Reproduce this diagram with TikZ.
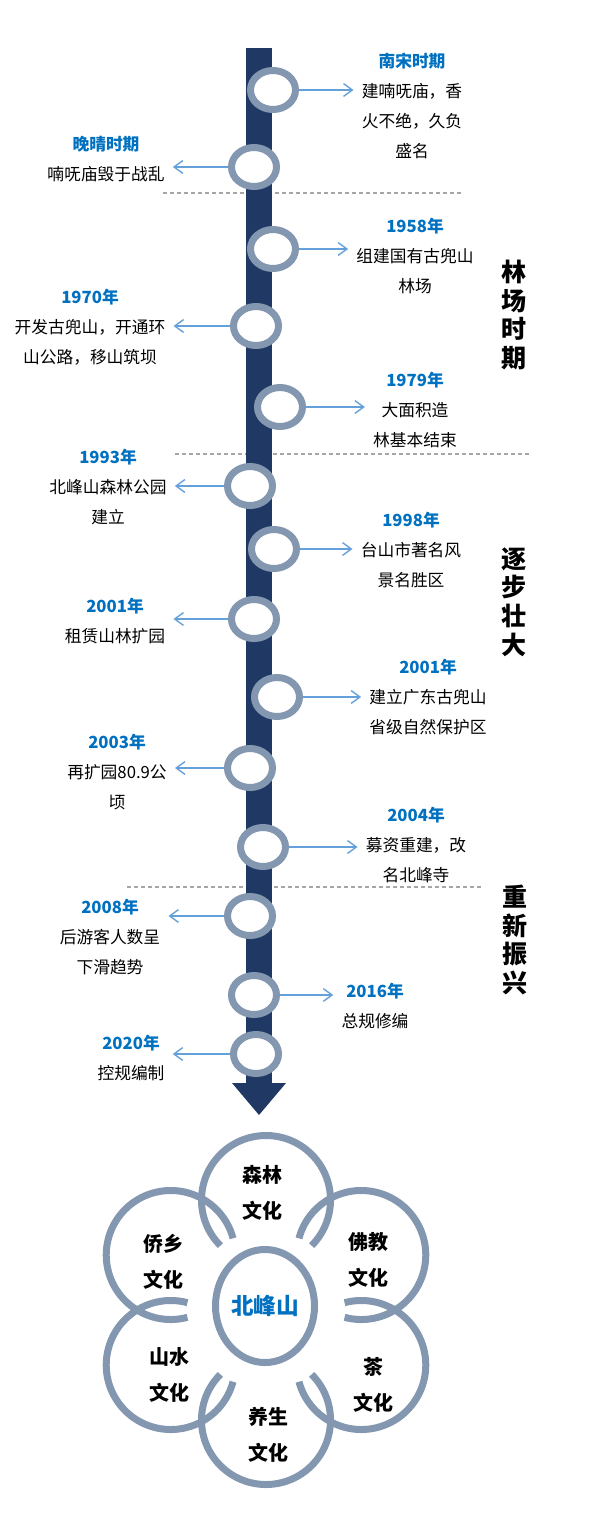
\documentclass[tikz,border=0pt]{standalone}
\usepackage{fontspec}
\setmainfont{Noto Sans CJK SC}
\usetikzlibrary{arrows.meta,shapes.geometric}
\definecolor{barNavy}{RGB}{32,56,100}
\definecolor{ringGray}{RGB}{132,151,176}
\definecolor{linkBlue}{RGB}{100,160,218}
\definecolor{yearBlue}{RGB}{0,112,192}
\definecolor{dashGray}{RGB}{166,166,166}
\newcommand{\yr}[1]{{\color{yearBlue}\bfseries #1}}

\begin{document}
\begin{tikzpicture}[x=0.025cm,y=-0.025cm,
      ring/.style={ellipse,draw=ringGray,fill=white,line width=0.175cm,minimum width=1.125cm,minimum height=0.975cm,inner sep=0pt},
      event/.style={align=center,inner xsep=0.2cm,inner ysep=0pt,font=\fontsize{11.9}{21.3}\selectfont},
      link/.style={draw=linkBlue,line width=0.035cm,-{Straight Barb[length=0.22cm,width=0.32cm]}},
      period/.style={align=center,font=\fontsize{17.8}{20.4}\selectfont\bfseries},
      sep/.style={draw=dashGray,line width=0.033cm,dash pattern=on 0.1cm off 0.075cm},
      petal/.style={draw=ringGray,line width=0.175cm},
      culture/.style={align=center,font=\fontsize{14.2}{25.6}\selectfont\bfseries}]
    \useasboundingbox (0,0) rectangle (600,1517);

    % dashed period borders
    \draw[sep] (163,193) -- (461,193);
    \draw[sep] (175,454) -- (529,454);
    \draw[sep] (127,887) -- (483,887);

    % timeline bar
    \coordinate (top) at (259,48);
    \coordinate (base) at (259,1083);
    \draw[barNavy,line width=0.65cm] (top) -- (base);
    \fill[barNavy] (base) ++(-27,0) -- ++(54,0) -- (259,1115) -- cycle;

    % rings
    \node[ring] (r1) at (273,90) {};
    \node[ring] (r2) at (254,167) {};
    \node[ring] (r3) at (273,249) {};
    \node[ring] (r4) at (256,326) {};
    \node[ring] (r5) at (280,407) {};
    \node[ring] (r6) at (250,486) {};
    \node[ring] (r7) at (274,549) {};
    \node[ring] (r8) at (254,619) {};
    \node[ring] (r9) at (277,697) {};
    \node[ring] (r10) at (250,768) {};
    \node[ring] (r11) at (263,847) {};
    \node[ring] (r12) at (250,916) {};
    \node[ring] (r13) at (254,995) {};
    \node[ring] (r14) at (256,1054) {};

    % events
    \node[event] (t1) at (412,106) {\yr{南宋时期}\\建喃呒庙，香\\火不绝，久负\\盛名};
    \node[event] (t2) at (106,159) {\yr{晚晴时期}\\喃呒庙毁于战乱};
    \node[event] (t3) at (415,256) {\yr{1958年}\\组建国有古兜山\\林场};
    \node[event] (t4) at (90,327) {\yr{1970年}\\开发古兜山，开通环\\山公路，移山筑坝};
    \node[event] (t5) at (415,410) {\yr{1979年}\\大面积造\\林基本结束};
    \node[event] (t6) at (108,487) {\yr{1993年}\\北峰山森林公园\\建立};
    \node[event] (t7) at (411,550) {\yr{1998年}\\台山市著名风\\景名胜区};
    \node[event] (t8) at (115,621) {\yr{2001年}\\租赁山林扩园};
    \node[event] (t9) at (428,697) {\yr{2001年}\\建立广东古兜山\\省级自然保护区};
    \node[event] (t10) at (117,772) {\yr{2003年}\\再扩园80.9公\\顷};
    \node[event] (t11) at (416,845) {\yr{2004年}\\募资重建，改\\名北峰寺};
    \node[event] (t12) at (110,937) {\yr{2008年}\\后游客人数呈\\下滑趋势};
    \node[event] (t13) at (375,1006) {\yr{2016年}\\总规修编};
    \node[event] (t14) at (131,1058) {\yr{2020年}\\控规编制};

    \draw[link] (r1.east) -- (r1.east -| t1.west);
    \draw[link] (r2.west) -- (r2.west -| t2.east);
    \draw[link] (r3.east) -- (r3.east -| t3.west);
    \draw[link] (r4.west) -- (r4.west -| t4.east);
    \draw[link] (r5.east) -- (r5.east -| t5.west);
    \draw[link] (r6.west) -- (r6.west -| t6.east);
    \draw[link] (r7.east) -- (r7.east -| t7.west);
    \draw[link] (r8.west) -- (r8.west -| t8.east);
    \draw[link] (r9.east) -- (r9.east -| t9.west);
    \draw[link] (r10.west) -- (r10.west -| t10.east);
    \draw[link] (r11.east) -- (r11.east -| t11.west);
    \draw[link] (r12.west) -- (r12.west -| t12.east);
    \draw[link] (r13.east) -- (r13.east -| t13.west);
    \draw[link] (r14.west) -- (r14.west -| t14.east);

    % periods
    \node[period] (p1) at (514,315) {林\\场\\时\\期};
    \node[period] (p2) at (514,602) {逐\\步\\壮\\大};
    \node[period] (p3) at (515,940) {重\\新\\振\\兴};

    % flower
    \coordinate (hub) at (266,1310);
    \node[ellipse,draw=ringGray,line width=0.175cm,minimum width=2.475cm,minimum height=2.825cm,inner sep=0pt,
      text=yearBlue,font=\fontsize{16.1}{18}\selectfont\bfseries] (core) at (265,1306) {北峰山};
    \foreach \ang in {90,150,30,210,330,270}
      \draw[petal] (hub) ++(-\ang:110) ++(225-\ang:64.5) arc[start angle=225-\ang,end angle=495-\ang,radius=64.5];
    \node[culture] (forest) at (262,1193) {森林\\文化};
    \node[culture] (qiaoxiang) at (163,1262) {侨乡\\文化};
    \node[culture] (buddhism) at (368,1260) {佛教\\文化};
    \node[culture] (landscape) at (169,1375) {山水\\文化};
    \node[culture] (tea) at (373,1385) {茶\\文化};
    \node[culture] (health) at (268,1435) {养生\\文化};
  \end{tikzpicture}
\end{document}
